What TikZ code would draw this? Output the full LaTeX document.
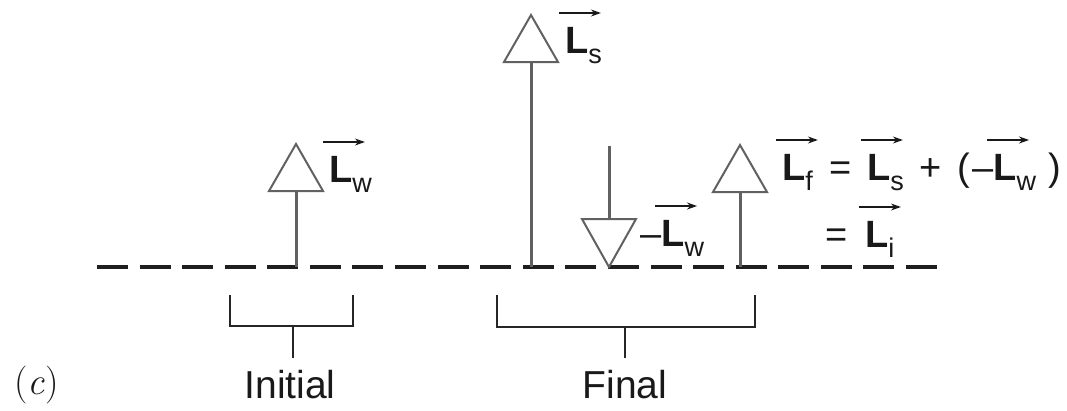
\documentclass[tikz,border=0pt]{standalone}
\usepackage{fontspec}
\newfontfamily\hv{Liberation Sans}
\usetikzlibrary{arrows.meta}
\newcommand{\Lv}[1]{\rlap{\kern-7pt\raisebox{40pt}{\tikz[x=1pt,y=1pt,baseline={(0,0)}]\draw[line width=1.4pt,line cap=butt,-{Stealth[length=10pt,width=7pt]}] (0,0)--(42,0);}}{\bfseries L}\raisebox{-10pt}{\fontsize{27}{27}\selectfont #1}}
\colorlet{vecgray}{black!62}
\begin{document}
\begin{tikzpicture}[x=1pt,y=-1pt,
  lab/.style={anchor=base west,inner sep=0pt,text=black!90,font=\hv\fontsize{38}{38}\selectfont},
  word/.style={anchor=base,inner sep=0pt,text=black!90,font=\hv\fontsize{39}{39}\selectfont},
  stem/.style={draw=vecgray,line width=3pt},
  tri/.style={draw=vecgray,fill=white,line width=2pt,line join=miter},
  axis/.style={draw=black!88,line width=4.5pt,dash pattern=on 31pt off 11.58pt},
  brk/.style={draw=black!85,line width=2pt}]
\useasboundingbox (0,0) rectangle (1067,410);
% dashed base line
\coordinate (dl) at (97,267);
\coordinate (dr) at (937,267);
\draw[axis] (dl) -- (dr);
% initial L_w
\coordinate (iw0) at (296,267);
\coordinate (iw1) at (296,191);
\draw[stem] (iw0) -- (iw1);
\draw[tri,shift={(iw1)}] (-27,0) -- (0,-47) -- (27,0) -- cycle;
% L_s
\coordinate (s0) at (531,267);
\coordinate (s1) at (531,62);
\draw[stem] (s0) -- (s1);
\draw[tri,shift={(s1)}] (-27,0) -- (0,-47) -- (27,0) -- cycle;
% -L_w
\coordinate (mw0) at (609,146);
\coordinate (mw1) at (609,219);
\draw[stem] (mw0) -- (mw1);
\draw[tri,shift={(mw1)}] (-27,0) -- (0,48) -- (27,0) -- cycle;
% L_f
\coordinate (f0) at (740,267);
\coordinate (f1) at (740,192);
\draw[stem] (f0) -- (f1);
\draw[tri,shift={(f1)}] (-27,0) -- (0,-47) -- (27,0) -- cycle;
% labels
\node[lab] (lw) at (329,182) {\Lv{w}};
\node[lab] (ls) at (565,53) {\Lv{s}};
\node[lab] (lmw) at (640,246) {–\Lv{w}};
\node[lab] (lf) at (782,180) {\Lv{f}};
\node[lab] (eq1) at (829,180) {=};
\node[lab] (ls2) at (867,180) {\Lv{s}};
\node[lab] (plus) at (919,180) {+};
\node[lab] (lp) at (957,180) {(};
\node[lab] (lmw2) at (972,180) {–\Lv{w}};
\node[lab] (rp) at (1048,180) {)};
\node[lab] (eq2) at (825,247) {=};
\node[lab] (li) at (865,247) {\Lv{i}};
% brackets
\coordinate (ia) at (230,295);
\coordinate (ib) at (353,295);
\coordinate (ic) at (293,326);
\coordinate (id) at (293,358);
\draw[brk] (ia) |- (ic) -| (ib);
\draw[brk] (ic) -- (id);
\coordinate (fa) at (497,295);
\coordinate (fb) at (755,295);
\coordinate (fc) at (625,327);
\coordinate (fd) at (625,358);
\draw[brk] (fa) |- (fc) -| (fb);
\draw[brk] (fc) -- (fd);
\node[word] (initial) at (290,398) {Initial};
\node[word] (final) at (625,398) {Final};
\node[anchor=base west,inner sep=0pt,text=black!90] (tag) at (14,394) {\fontsize{38}{38}\selectfont(\textit{c})};
\end{tikzpicture}
\end{document}
